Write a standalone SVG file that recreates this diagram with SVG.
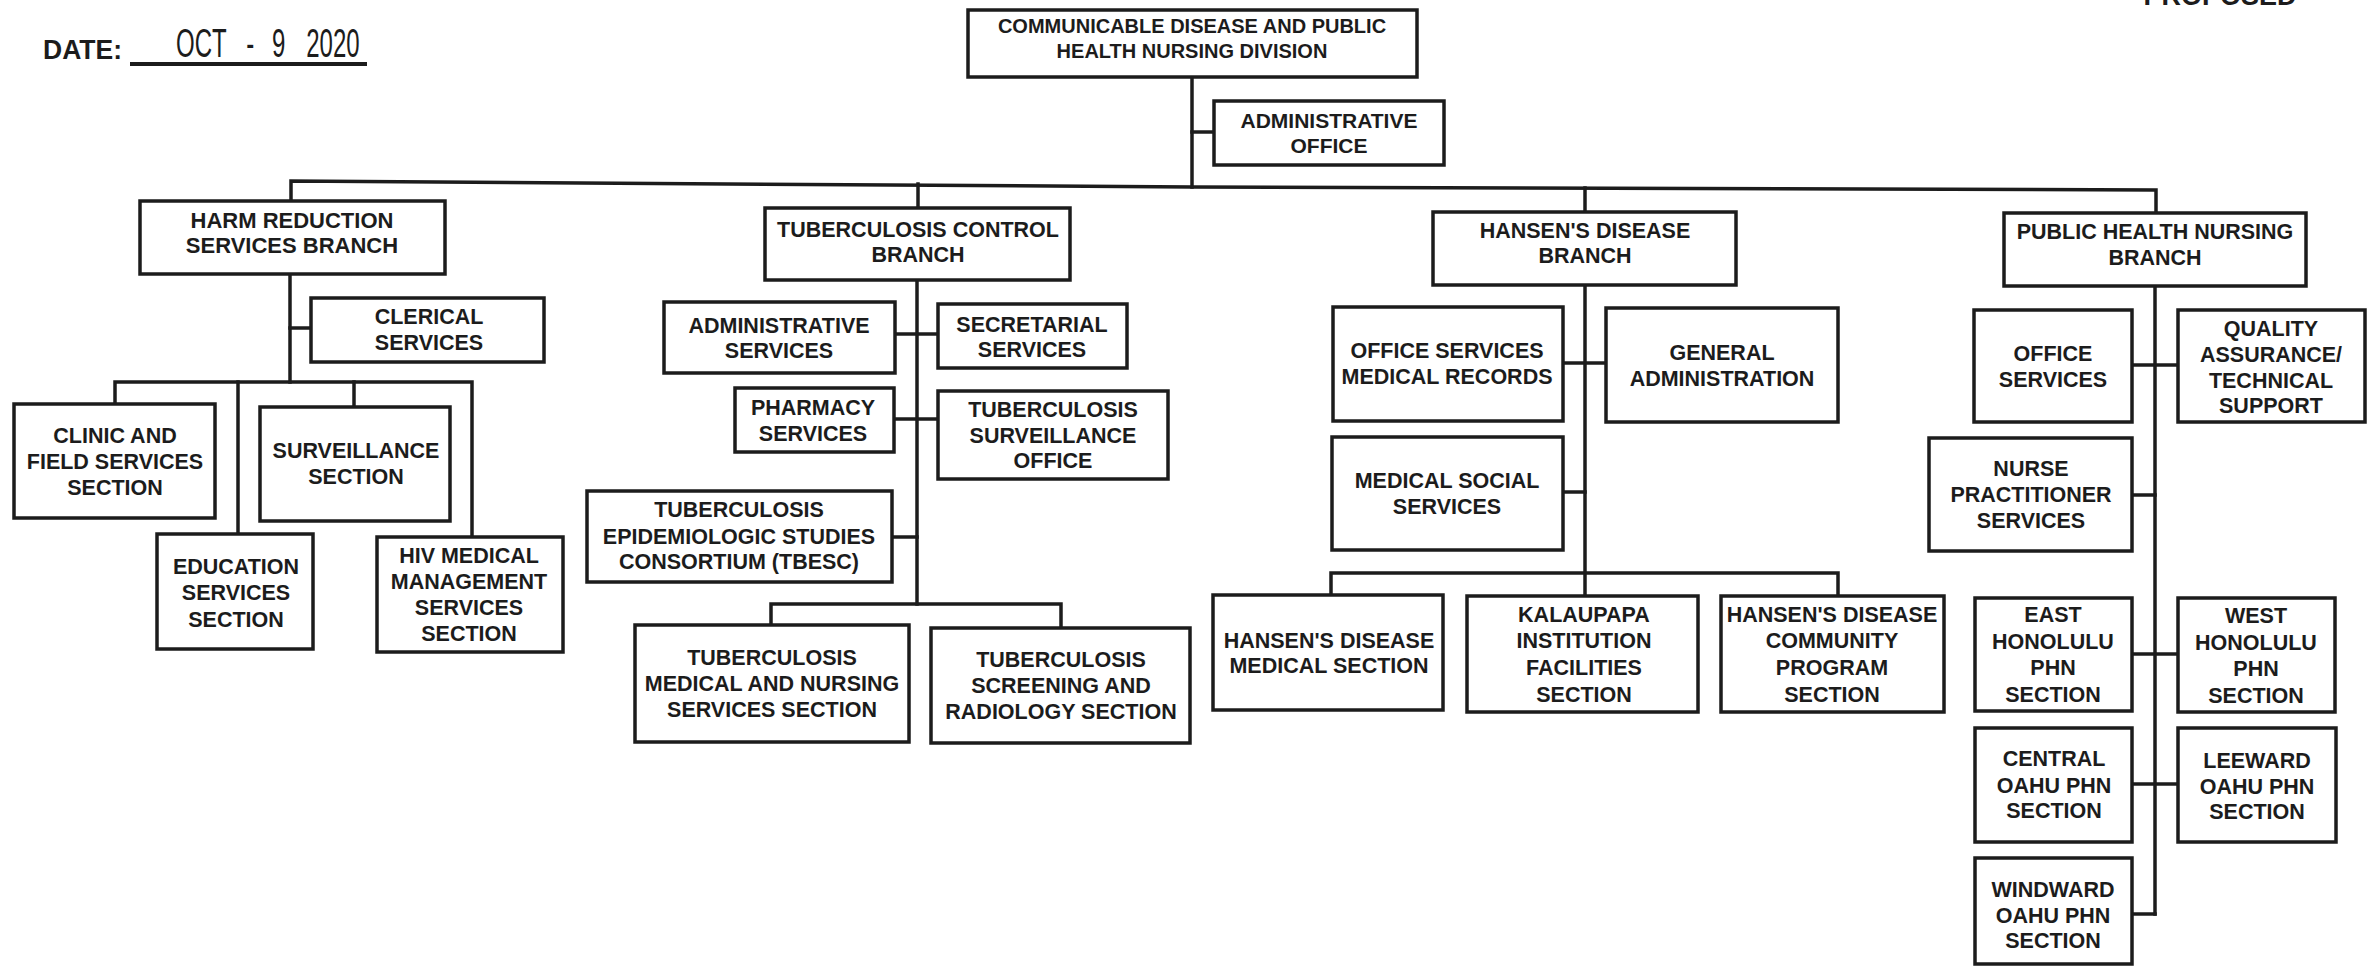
<svg xmlns="http://www.w3.org/2000/svg" width="2368" height="970" viewBox="0 0 2368 970">
<style>
.bg{fill:#ffffff}
.box{fill:#ffffff;stroke:#1c1c1c;stroke-width:3.5}
.t{font-family:"Liberation Sans",Arial,sans-serif;font-weight:bold;font-size:21.5px;fill:#1c1c1c;text-anchor:middle}
.c{fill:none;stroke:#1c1c1c;stroke-width:3.5;stroke-linecap:square}
.h{font-family:"Liberation Sans",Arial,sans-serif;fill:#1c1c1c}
</style>
<rect class="bg" x="0" y="0" width="2368" height="970"/>

<g id="header">
<text class="h" x="43" y="59" font-size="27" font-weight="bold" textLength="79" lengthAdjust="spacingAndGlyphs">DATE:</text>
<text class="h" transform="translate(176,57) scale(0.6,1)" font-size="40"><tspan x="0">OCT </tspan><tspan x="117">- </tspan><tspan x="160">9 </tspan><tspan x="217">2020</tspan></text>
<line x1="130" y1="64" x2="367" y2="64" stroke="#1c1c1c" stroke-width="4"/>
<text class="h" x="2220" y="5" font-size="27" font-weight="bold" text-anchor="middle">PROPOSED</text>
</g>

<g id="connectors">
<polyline class="c" points="1192,77 1192,187"/>
<polyline class="c" points="1192,132 1214,132"/>
<polyline class="c" points="291,201 291,181 1192,187 2156,190 2156,213"/>
<polyline class="c" points="918,184 918,208"/>
<polyline class="c" points="1585,188 1585,212"/>
<polyline class="c" points="290,274 290,382"/>
<polyline class="c" points="290,328 311,328"/>
<polyline class="c" points="115,404 115,382 472,382 472,537"/>
<polyline class="c" points="238,382 238,534"/>
<polyline class="c" points="354,382 354,407"/>
<polyline class="c" points="917,280 917,604"/>
<polyline class="c" points="895,334 938,334"/>
<polyline class="c" points="894,419 938,419"/>
<polyline class="c" points="892,537 917,537"/>
<polyline class="c" points="771,625 771,604 1061,604 1061,628"/>
<polyline class="c" points="1585,285 1585,596"/>
<polyline class="c" points="1563,363 1606,363"/>
<polyline class="c" points="1563,492 1585,492"/>
<polyline class="c" points="1331,595 1331,573 1838,573 1838,596"/>
<polyline class="c" points="2155,286 2155,914"/>
<polyline class="c" points="2132,365 2178,365"/>
<polyline class="c" points="2132,495 2155,495"/>
<polyline class="c" points="2132,654 2178,654"/>
<polyline class="c" points="2132,784 2178,784"/>
<polyline class="c" points="2132,914 2155,914"/>
</g>

<g id="division">
<rect class="box" x="968" y="10" width="449" height="67"/>
<text class="t" style="font-size:20px"><tspan x="1192" y="33">COMMUNICABLE DISEASE AND PUBLIC</tspan><tspan x="1192" y="58">HEALTH NURSING DIVISION</tspan></text>
</g>
<g id="admin-office">
<rect class="box" x="1214" y="101" width="230" height="64"/>
<text class="t" style="font-size:21px"><tspan x="1329" y="128">ADMINISTRATIVE</tspan><tspan x="1329" y="153">OFFICE</tspan></text>
</g>

<g id="harm-reduction">
<rect class="box" x="140" y="201" width="305" height="73"/>
<text class="t" style="font-size:22px"><tspan x="292" y="228">HARM REDUCTION</tspan><tspan x="292" y="253">SERVICES BRANCH</tspan></text>
</g>
<g id="clerical">
<rect class="box" x="311" y="298" width="233" height="64"/>
<text class="t"><tspan x="429" y="324">CLERICAL</tspan><tspan x="429" y="350">SERVICES</tspan></text>
</g>
<g id="clinic">
<rect class="box" x="14" y="404" width="201" height="114"/>
<text class="t"><tspan x="115" y="443">CLINIC AND</tspan><tspan x="115" y="469">FIELD SERVICES</tspan><tspan x="115" y="495">SECTION</tspan></text>
</g>
<g id="surveillance">
<rect class="box" x="260" y="407" width="190" height="114"/>
<text class="t"><tspan x="356" y="458">SURVEILLANCE</tspan><tspan x="356" y="484">SECTION</tspan></text>
</g>
<g id="education">
<rect class="box" x="157" y="534" width="156" height="115"/>
<text class="t"><tspan x="236" y="574">EDUCATION</tspan><tspan x="236" y="600">SERVICES</tspan><tspan x="236" y="627">SECTION</tspan></text>
</g>
<g id="hiv">
<rect class="box" x="377" y="537" width="186" height="115"/>
<text class="t"><tspan x="469" y="563">HIV MEDICAL</tspan><tspan x="469" y="589">MANAGEMENT</tspan><tspan x="469" y="615">SERVICES</tspan><tspan x="469" y="641">SECTION</tspan></text>
</g>

<g id="tb-branch">
<rect class="box" x="765" y="208" width="305" height="72"/>
<text class="t"><tspan x="918" y="237">TUBERCULOSIS CONTROL</tspan><tspan x="918" y="262">BRANCH</tspan></text>
</g>
<g id="tb-admin">
<rect class="box" x="664" y="302" width="231" height="71"/>
<text class="t"><tspan x="779" y="333">ADMINISTRATIVE</tspan><tspan x="779" y="358">SERVICES</tspan></text>
</g>
<g id="tb-secretarial">
<rect class="box" x="938" y="304" width="189" height="64"/>
<text class="t"><tspan x="1032" y="332">SECRETARIAL</tspan><tspan x="1032" y="357">SERVICES</tspan></text>
</g>
<g id="tb-pharmacy">
<rect class="box" x="735" y="388" width="159" height="64"/>
<text class="t"><tspan x="813" y="415">PHARMACY</tspan><tspan x="813" y="441">SERVICES</tspan></text>
</g>
<g id="tb-surveillance">
<rect class="box" x="938" y="391" width="230" height="88"/>
<text class="t"><tspan x="1053" y="417">TUBERCULOSIS</tspan><tspan x="1053" y="443">SURVEILLANCE</tspan><tspan x="1053" y="468">OFFICE</tspan></text>
</g>
<g id="tbesc">
<rect class="box" x="587" y="491" width="305" height="91"/>
<text class="t"><tspan x="739" y="517">TUBERCULOSIS</tspan><tspan x="739" y="544">EPIDEMIOLOGIC STUDIES</tspan><tspan x="739" y="569">CONSORTIUM (TBESC)</tspan></text>
</g>
<g id="tb-medical">
<rect class="box" x="635" y="625" width="274" height="117"/>
<text class="t"><tspan x="772" y="665">TUBERCULOSIS</tspan><tspan x="772" y="691">MEDICAL AND NURSING</tspan><tspan x="772" y="717">SERVICES SECTION</tspan></text>
</g>
<g id="tb-screening">
<rect class="box" x="931" y="628" width="259" height="115"/>
<text class="t"><tspan x="1061" y="667">TUBERCULOSIS</tspan><tspan x="1061" y="693">SCREENING AND</tspan><tspan x="1061" y="719">RADIOLOGY SECTION</tspan></text>
</g>

<g id="hansen-branch">
<rect class="box" x="1433" y="212" width="303" height="73"/>
<text class="t"><tspan x="1585" y="238">HANSEN'S DISEASE</tspan><tspan x="1585" y="263">BRANCH</tspan></text>
</g>
<g id="hd-office-services">
<rect class="box" x="1333" y="307" width="230" height="114"/>
<text class="t"><tspan x="1447" y="358">OFFICE SERVICES</tspan><tspan x="1447" y="384">MEDICAL RECORDS</tspan></text>
</g>
<g id="hd-general-admin">
<rect class="box" x="1606" y="308" width="232" height="114"/>
<text class="t"><tspan x="1722" y="360">GENERAL</tspan><tspan x="1722" y="386">ADMINISTRATION</tspan></text>
</g>
<g id="hd-medical-social">
<rect class="box" x="1332" y="437" width="231" height="113"/>
<text class="t"><tspan x="1447" y="488">MEDICAL SOCIAL</tspan><tspan x="1447" y="514">SERVICES</tspan></text>
</g>
<g id="hd-medical-section">
<rect class="box" x="1213" y="595" width="230" height="115"/>
<text class="t"><tspan x="1329" y="648">HANSEN'S DISEASE</tspan><tspan x="1329" y="673">MEDICAL SECTION</tspan></text>
</g>
<g id="hd-kalaupapa">
<rect class="box" x="1467" y="596" width="231" height="116"/>
<text class="t"><tspan x="1584" y="622">KALAUPAPA</tspan><tspan x="1584" y="648">INSTITUTION</tspan><tspan x="1584" y="675">FACILITIES</tspan><tspan x="1584" y="702">SECTION</tspan></text>
</g>
<g id="hd-community">
<rect class="box" x="1721" y="596" width="223" height="116"/>
<text class="t"><tspan x="1832" y="622">HANSEN'S DISEASE</tspan><tspan x="1832" y="648">COMMUNITY</tspan><tspan x="1832" y="675">PROGRAM</tspan><tspan x="1832" y="702">SECTION</tspan></text>
</g>

<g id="phn-branch">
<rect class="box" x="2004" y="213" width="302" height="73"/>
<text class="t"><tspan x="2155" y="239">PUBLIC HEALTH NURSING</tspan><tspan x="2155" y="265">BRANCH</tspan></text>
</g>
<g id="phn-office">
<rect class="box" x="1974" y="310" width="158" height="112"/>
<text class="t"><tspan x="2053" y="361">OFFICE</tspan><tspan x="2053" y="387">SERVICES</tspan></text>
</g>
<g id="phn-quality">
<rect class="box" x="2178" y="310" width="187" height="112"/>
<text class="t"><tspan x="2271" y="336">QUALITY</tspan><tspan x="2271" y="362">ASSURANCE/</tspan><tspan x="2271" y="388">TECHNICAL</tspan><tspan x="2271" y="413">SUPPORT</tspan></text>
</g>
<g id="phn-nurse">
<rect class="box" x="1929" y="438" width="203" height="113"/>
<text class="t"><tspan x="2031" y="476">NURSE</tspan><tspan x="2031" y="502">PRACTITIONER</tspan><tspan x="2031" y="528">SERVICES</tspan></text>
</g>
<g id="phn-east">
<rect class="box" x="1975" y="598" width="157" height="113"/>
<text class="t"><tspan x="2053" y="622">EAST</tspan><tspan x="2053" y="649">HONOLULU</tspan><tspan x="2053" y="675">PHN</tspan><tspan x="2053" y="702">SECTION</tspan></text>
</g>
<g id="phn-west">
<rect class="box" x="2178" y="598" width="157" height="114"/>
<text class="t"><tspan x="2256" y="623">WEST</tspan><tspan x="2256" y="650">HONOLULU</tspan><tspan x="2256" y="676">PHN</tspan><tspan x="2256" y="703">SECTION</tspan></text>
</g>
<g id="phn-central">
<rect class="box" x="1975" y="728" width="157" height="114"/>
<text class="t"><tspan x="2054" y="766">CENTRAL</tspan><tspan x="2054" y="793">OAHU PHN</tspan><tspan x="2054" y="818">SECTION</tspan></text>
</g>
<g id="phn-leeward">
<rect class="box" x="2178" y="728" width="158" height="114"/>
<text class="t"><tspan x="2257" y="768">LEEWARD</tspan><tspan x="2257" y="794">OAHU PHN</tspan><tspan x="2257" y="819">SECTION</tspan></text>
</g>
<g id="phn-windward">
<rect class="box" x="1975" y="858" width="157" height="106"/>
<text class="t"><tspan x="2053" y="897">WINDWARD</tspan><tspan x="2053" y="923">OAHU PHN</tspan><tspan x="2053" y="948">SECTION</tspan></text>
</g>
</svg>
